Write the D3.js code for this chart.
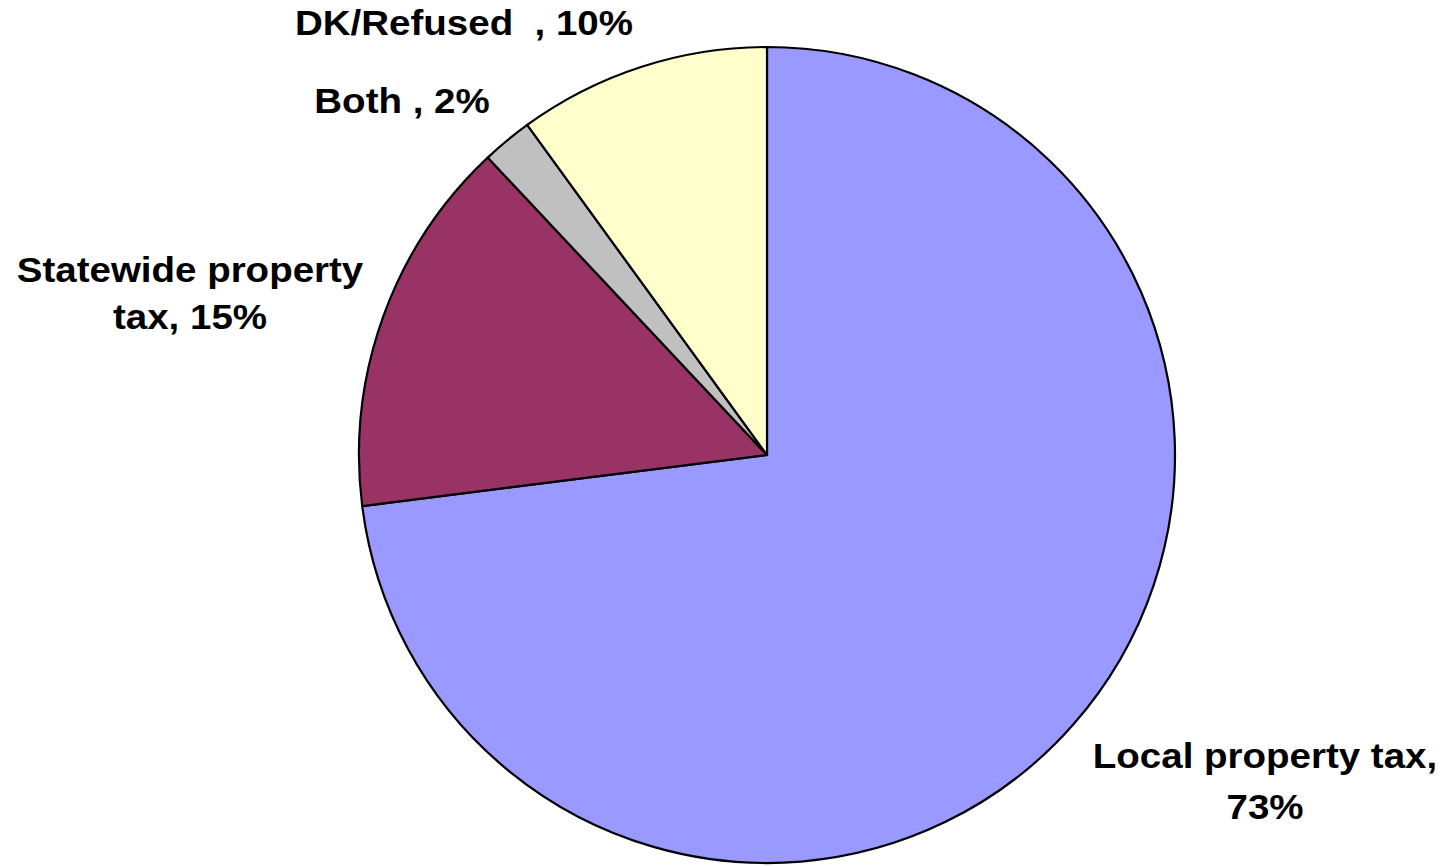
<!DOCTYPE html>
<html>
<head>
<meta charset="utf-8">
<script src="https://cdn.jsdelivr.net/npm/d3@7"></script>
<style>
  html, body { margin: 0; padding: 0; background: #fff; }
  svg { display: block; }
  .lbl { font-family: "Liberation Sans", Arial, sans-serif; font-weight: bold; font-size: 35px; fill: #000; }
</style>
</head>
<body>
<svg id="chart"></svg>
<script>
// data
const categories = ['Local property tax', 'Statewide property tax', 'Both ', 'DK/Refused  '];
const values = [73, 15, 2, 10];
const colors = ['#9999FF', '#993366', '#C0C0C0', '#FFFFCC'];

// label lines and where they sit (layout only)
const labelLines = [
    ['Local property tax,', '73%'],
    ['Statewide property', 'tax, 15%'],
    ['Both , 2%'],
    ['DK/Refused  , 10%']
];
const labelPos = [
    { x: 1265, y: 768, dy: 51 },
    { x: 190, y: 282, dy: 47 },
    { x: 402, y: 113, dy: 0 },
    { x: 464, y: 35, dy: 0 }
];

window.addEventListener('DOMContentLoaded', function() {
    const width = 1446, height = 866;
    const cx = 767, cy = 455, radius = 408;

    const svg = d3.select('#chart')
        .attr('width', width)
        .attr('height', height);

    const pie = d3.pie()
        .sort(null)
        .value(function(d) { return d; });

    const arc = d3.arc()
        .innerRadius(0)
        .outerRadius(radius);

    const g = svg.append('g')
        .attr('transform', `translate(${cx}, ${cy})`);

    g.selectAll('path')
        .data(pie(values))
        .enter()
        .append('path')
        .attr('d', arc)
        .attr('fill', function(d, i) { return colors[i]; })
        .attr('stroke', '#000')
        .attr('stroke-width', 2.2)
        .attr('stroke-linejoin', 'round');

    // labels (text is a bit wide in the original, so stretch it)
    labelLines.forEach(function(lines, i) {
        const p = labelPos[i];
        lines.forEach(function(line, j) {
            svg.append('text')
                .attr('class', 'lbl')
                .attr('text-anchor', 'middle')
                .attr('transform', `translate(${p.x}, ${p.y + j * p.dy}) scale(1.1, 1)`)
                .attr('xml:space', 'preserve')
                .style('white-space', 'pre')
                .text(line);
        });
    });
});
</script>
</body>
</html>
